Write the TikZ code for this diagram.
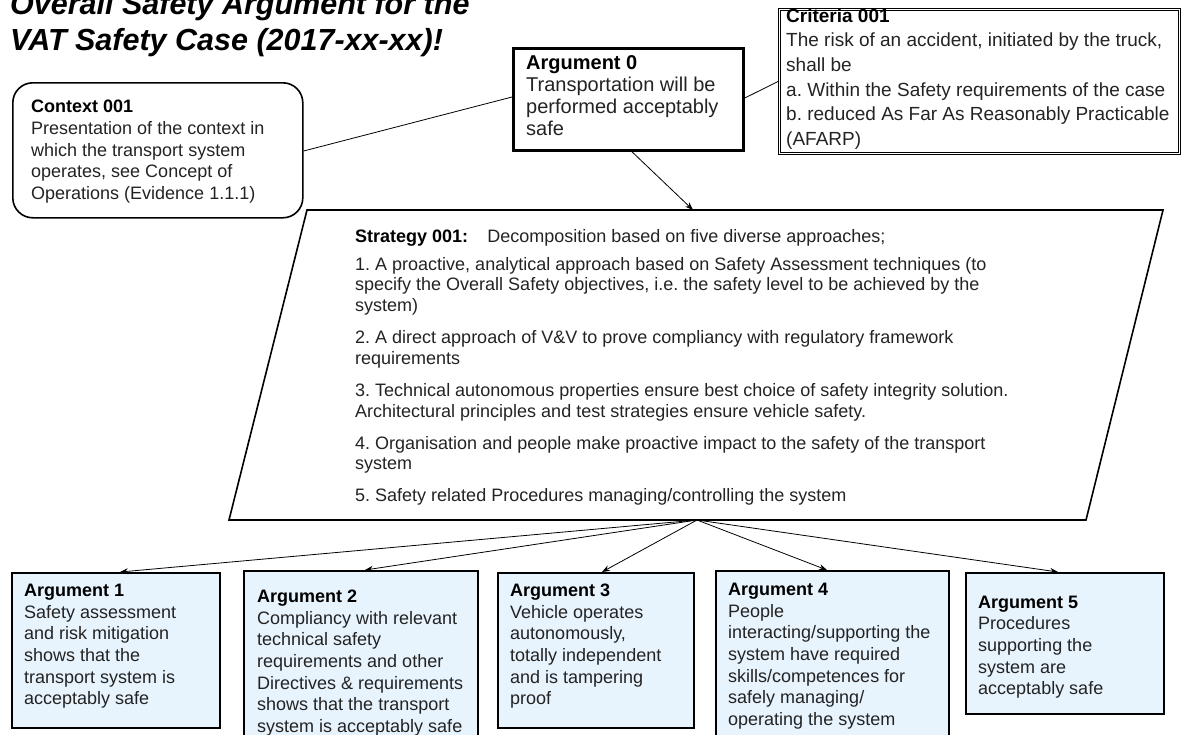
\documentclass[tikz,border=0pt]{standalone}
\usepackage{fontspec}
\setmainfont{Liberation Sans}
\usetikzlibrary{arrows.meta}
\definecolor{argfill}{RGB}{232,244,253}
\definecolor{txtc}{RGB}{35,35,35}
\newcommand{\firstln}{\rule{0pt}{16pt}}
\frenchspacing
\tikzset{
  argbox/.style={draw=black, line width=1.6pt, fill=argfill, inner sep=0pt, anchor=north west},
  txt/.style={anchor=north west, inner sep=0pt, align=left, text=txtc, font=\fontsize{18}{21.6}\selectfont},
  conn/.style={line width=0.8pt},
  arr/.style={line width=0.8pt, -{Stealth[length=8pt,width=6pt]}},
}
\begin{document}
\frenchspacing
\begin{tikzpicture}[x=1pt,y=-1pt]
\useasboundingbox (0,0) rectangle (1182,734);
% title
\node[anchor=north west, inner sep=0pt, align=left, font=\fontsize{30.5}{36.5}\selectfont\bfseries\itshape] (title) at (10,-12) {\rule{0pt}{26pt}Overall Safety Argument for the\\VAT Safety Case (2017-xx-xx)!};

% context
\node[draw, rounded corners=20pt, line width=1.6pt, minimum width=290pt, minimum height=135pt, anchor=north west, inner sep=0pt] (ctx) at (12,82) {};
\node[txt] (ctxt) at (31,96.7) {\firstln\textbf{\color{black}Context 001}\\Presentation of the context in\\which the transport system\\operates, see Concept of\\Operations (Evidence 1.1.1)};

% argument 0
\node[draw, line width=2.8pt, minimum width=230pt, minimum height=102pt, anchor=north west, inner sep=0pt] (a0) at (512,47) {};
\node[txt, font=\fontsize{20}{22}\selectfont] (a0t) at (526,53) {\firstln\textbf{\color{black}Argument 0}\\Transportation will be\\performed acceptably\\safe};

% criteria
\node[draw, double, double distance=1.6pt, line width=0.8pt, minimum width=400pt, minimum height=144pt, anchor=north west, inner sep=0pt] (cr) at (779,9) {};
\node[txt, font=\fontsize{19}{24.6}\selectfont] (crt) at (786,6) {\firstln\textbf{\color{black}Criteria 001}\\The risk of an accident, initiated by the truck,\\shall be\\a. Within the Safety requirements of the case\\b. reduced As Far As Reasonably Practicable\\(AFARP)};

% strategy
\coordinate (stTL) at (307,210);
\coordinate (stTR) at (1163,210);
\coordinate (stBR) at (1086,520);
\coordinate (stBL) at (229,520);
\draw[line width=1.6pt] (stTL) -- (stTR) -- (stBR) -- (stBL) -- cycle;
\coordinate (stIn) at (693,210);
\coordinate (stOut) at (697,520);
\node[txt, font=\fontsize{18}{20.7}\selectfont] (stt) at (355,226) {\firstln\textbf{\color{black}Strategy 001:}\hspace{19pt}Decomposition based on five diverse approaches;\\[7.3pt]
1. A proactive, analytical approach based on Safety Assessment techniques (to\\specify the Overall Safety objectives, i.e. the safety level to be achieved by the\\system)\\[11.3pt]
2. A direct approach of V\&V to prove compliancy with regulatory framework\\requirements\\[11.3pt]
3. Technical autonomous properties ensure best choice of safety integrity solution.\\Architectural principles and test strategies ensure vehicle safety.\\[11.3pt]
4. Organisation and people make proactive impact to the safety of the transport\\system\\[11.3pt]
5. Safety related Procedures managing/controlling the system};

% bottom arguments
\node[argbox, minimum width=208pt, minimum height=155pt] (a1) at (11,572) {};
\node[argbox, minimum width=234pt, minimum height=180pt] (a2) at (243,570) {};
\node[argbox, minimum width=196pt, minimum height=155pt] (a3) at (497,572) {};
\node[argbox, minimum width=233pt, minimum height=180pt] (a4) at (715,570) {};
\node[argbox, minimum width=198pt, minimum height=141pt] (a5) at (965,572) {};

\node[txt] (a1t) at (24,580.5) {\firstln\textbf{\color{black}Argument 1}\\Safety assessment\\and risk mitigation\\shows that the\\transport system is\\acceptably safe};
\node[txt] (a2t) at (257,586.5) {\firstln\textbf{\color{black}Argument 2}\\Compliancy with relevant\\technical safety\\requirements and other\\Directives \& requirements\\shows that the transport\\system is acceptably safe};
\node[txt] (a3t) at (510,580.5) {\firstln\textbf{\color{black}Argument 3}\\Vehicle operates\\autonomously,\\totally independent\\and is tampering\\proof};
\node[txt] (a4t) at (728,579.5) {\firstln\textbf{\color{black}Argument 4}\\People\\interacting/supporting the\\system have required\\skills/competences for\\safely managing/\\operating the system};
\node[txt] (a5t) at (978,592) {\firstln\textbf{\color{black}Argument 5}\\Procedures\\supporting the\\system are\\acceptably safe};

% connectors
\draw[conn] (ctx.east |- 0,151) -- (a0.west |- 0,97);
\draw[conn] (a0.east |- 0,98) -- (cr.west |- 0,81);
\draw[arr] (a0.south -| 632,0) -- (stIn);
\draw[arr] (stOut) -- (a1.north -| 120,0);
\draw[arr] (stOut) -- (a2.north -| 365,0);
\draw[arr] (stOut) -- (a3.north -| 602,0);
\draw[arr] (stOut) -- (a4.north -| 827,0);
\draw[arr] (stOut) -- (a5.north -| 1058,0);
\end{tikzpicture}
\end{document}
